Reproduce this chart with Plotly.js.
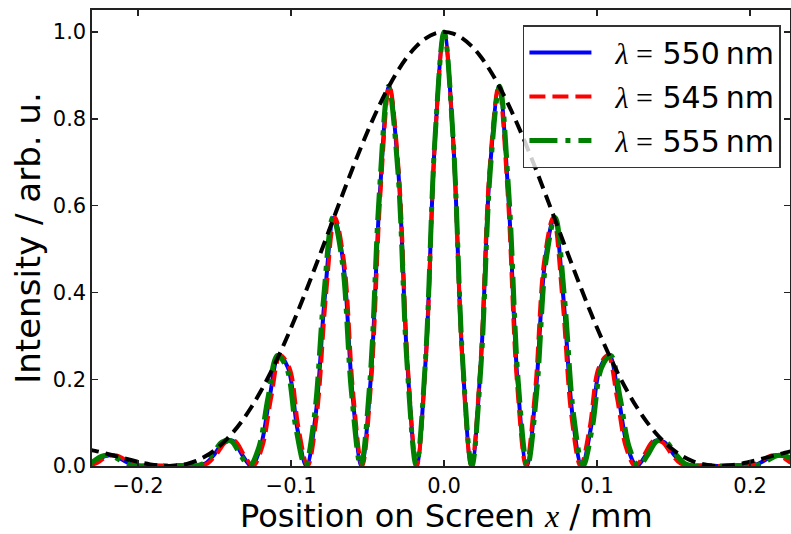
<!DOCTYPE html>
<html>
<head>
<meta charset="utf-8">
<script src="https://cdn.plot.ly/plotly-3.0.1.min.js"></script>
<style>html,body{margin:0;padding:0;background:#fff}#chart{width:791px;height:534px}</style>
</head>
<body>
<div id="chart"></div>
<script>
// Screen positions (mm) of the sampled points for each wavelength
const x550 = [-0.234,-0.228,-0.222,-0.216,-0.210,-0.204,-0.198,-0.192,-0.186,-0.180,-0.174,-0.168,-0.162,-0.156,-0.150,-0.144,-0.138,-0.132,-0.126,-0.120,-0.114,-0.108,-0.102,-0.096,-0.090,-0.084,-0.078,-0.072,-0.066,-0.060,-0.054,-0.048,-0.042,-0.036,-0.030,-0.024,-0.018,-0.012,-0.006,0,
0.006,0.012,0.018,0.024,0.030,0.036,0.042,0.048,0.054,0.060,0.066,0.072,0.078,0.084,0.090,0.096,0.102,0.108,0.114,0.120,0.126,0.132,0.138,0.144,0.150,0.156,0.162,0.168,0.174,0.180,0.186,0.192,0.198,0.204,0.210,0.216,0.222,0.228,0.234];
const x545 = [-0.231873,-0.225927,-0.219982,-0.214036,-0.208091,-0.202145,-0.196200,-0.190255,-0.184309,-0.178364,-0.172418,-0.166473,-0.160527,-0.154582,-0.148636,-0.142691,-0.136745,-0.130800,-0.124855,-0.118909,-0.112964,-0.107018,-0.101073,-0.095127,-0.089182,-0.083236,-0.077291,-0.071345,-0.065400,-0.059455,-0.053509,-0.047564,-0.041618,-0.035673,-0.029727,-0.023782,-0.017836,-0.011891,-0.005945,0,
0.005945,0.011891,0.017836,0.023782,0.029727,0.035673,0.041618,0.047564,0.053509,0.059455,0.065400,0.071345,0.077291,0.083236,0.089182,0.095127,0.101073,0.107018,0.112964,0.118909,0.124855,0.130800,0.136745,0.142691,0.148636,0.154582,0.160527,0.166473,0.172418,0.178364,0.184309,0.190255,0.196200,0.202145,0.208091,0.214036,0.219982,0.225927,0.231873];
const x555 = [-0.236127,-0.230073,-0.224018,-0.217964,-0.211909,-0.205855,-0.199800,-0.193745,-0.187691,-0.181636,-0.175582,-0.169527,-0.163473,-0.157418,-0.151364,-0.145309,-0.139255,-0.133200,-0.127145,-0.121091,-0.115036,-0.108982,-0.102927,-0.096873,-0.090818,-0.084764,-0.078709,-0.072655,-0.066600,-0.060545,-0.054491,-0.048436,-0.042382,-0.036327,-0.030273,-0.024218,-0.018164,-0.012109,-0.006055,0,
0.006055,0.012109,0.018164,0.024218,0.030273,0.036327,0.042382,0.048436,0.054491,0.060545,0.066600,0.072655,0.078709,0.084764,0.090818,0.096873,0.102927,0.108982,0.115036,0.121091,0.127145,0.133200,0.139255,0.145309,0.151364,0.157418,0.163473,0.169527,0.175582,0.181636,0.187691,0.193745,0.199800,0.205855,0.211909,0.217964,0.224018,0.230073,0.236127];

// Intensity read at those points (same fringe shape for all three wavelengths)
const intensity550 = [0,0.0087,0.0224,0.0243,0.0140,0.0033,0,0.0010,0.0008,0,0.0009,0.0013,0,0.0056,0.0274,0.0547,0.0579,0.0260,0,0.0427,0.1581,0.2546,0.2264,0.0881,0,0.1150,0.3872,0.5728,0.4717,0.1710,0,0.1967,0.6249,0.8751,0.6839,0.2357,0,0.2464,0.7473,1,
0.7473,0.2464,0,0.2357,0.6839,0.8751,0.6249,0.1967,0,0.1710,0.4717,0.5728,0.3872,0.1150,0,0.0881,0.2264,0.2546,0.1581,0.0427,0,0.0260,0.0579,0.0547,0.0274,0.0056,0,0.0013,0.0009,0,0.0008,0.0010,0,0.0033,0.0140,0.0243,0.0224,0.0087,0];
const intensity545 = [0,0.0087,0.0224,0.0243,0.0140,0.0033,0,0.0010,0.0008,0,0.0009,0.0013,0,0.0056,0.0274,0.0547,0.0579,0.0260,0,0.0427,0.1581,0.2546,0.2264,0.0881,0,0.1150,0.3872,0.5728,0.4717,0.1710,0,0.1967,0.6249,0.8751,0.6839,0.2357,0,0.2464,0.7473,1,
0.7473,0.2464,0,0.2357,0.6839,0.8751,0.6249,0.1967,0,0.1710,0.4717,0.5728,0.3872,0.1150,0,0.0881,0.2264,0.2546,0.1581,0.0427,0,0.0260,0.0579,0.0547,0.0274,0.0056,0,0.0013,0.0009,0,0.0008,0.0010,0,0.0033,0.0140,0.0243,0.0224,0.0087,0];
const intensity555 = [0,0.0087,0.0224,0.0243,0.0140,0.0033,0,0.0010,0.0008,0,0.0009,0.0013,0,0.0056,0.0274,0.0547,0.0579,0.0260,0,0.0427,0.1581,0.2546,0.2264,0.0881,0,0.1150,0.3872,0.5728,0.4717,0.1710,0,0.1967,0.6249,0.8751,0.6839,0.2357,0,0.2464,0.7473,1,
0.7473,0.2464,0,0.2357,0.6839,0.8751,0.6249,0.1967,0,0.1710,0.4717,0.5728,0.3872,0.1150,0,0.0881,0.2264,0.2546,0.1581,0.0427,0,0.0260,0.0579,0.0547,0.0274,0.0056,0,0.0013,0.0009,0,0.0008,0.0010,0,0.0033,0.0140,0.0243,0.0224,0.0087,0];

// Single-slit envelope (black dashed), at the x550 positions
const envelope = [0.0392,0.0349,0.0298,0.0243,0.0186,0.0131,0.0080,0.0038,0.0010,0,0.0012,0.0050,0.0119,0.0223,0.0365,0.0547,0.0772,0.1041,0.1353,0.1710,0.2108,0.2546,0.3019,0.3523,0.4053,0.4602,0.5163,0.5728,0.6289,0.6839,0.7368,0.7869,0.8332,0.8751,0.9119,0.9429,0.9675,0.9855,0.9964,1,
0.9964,0.9855,0.9675,0.9429,0.9119,0.8751,0.8332,0.7869,0.7368,0.6839,0.6289,0.5728,0.5163,0.4602,0.4053,0.3523,0.3019,0.2546,0.2108,0.1710,0.1353,0.1041,0.0772,0.0547,0.0365,0.0223,0.0119,0.0050,0.0012,0,0.0010,0.0038,0.0080,0.0131,0.0186,0.0243,0.0298,0.0349,0.0392];

const seriesNames = ['550', '545', '555'];
const xTickVals = [-0.2, -0.1, 0.0, 0.1, 0.2];
const xTickText = ['\u22120.2', '\u22120.1', '0.0', '0.1', '0.2'];
const yTickVals = [0, 0.2, 0.4, 0.6, 0.8, 1.0];
const yTickText = ['0.0', '0.2', '0.4', '0.6', '0.8', '1.0'];
const xTitle = 'Position on Screen <span style="font-family:Liberation Serif"><i>x</i></span> / mm';
const yTitle = 'Intensity / arb. u.';

const SANS = 'DejaVu Sans, sans-serif';
const lam = n => '\u00a0\u00a0<span style="font-family:Liberation Serif"><i>λ</i> =</span> ' + n + '\u2009nm';

const traces = [
  {x: x550, y: intensity550, mode: 'lines', name: lam(seriesNames[0]), legendgroup: 'a',
   line: {color: '#0000ff', width: 4, shape: 'spline', smoothing: 1}},
  {x: x545, y: intensity545, mode: 'lines', name: lam(seriesNames[1]), legendgroup: 'b',
   line: {color: '#ff0000', width: 4, shape: 'spline', smoothing: 1, dash: '16px,7px'}},
  {x: x555, y: intensity555, mode: 'lines', name: lam(seriesNames[2]), legendgroup: 'c',
   line: {color: '#008000', width: 5, shape: 'spline', smoothing: 1, dash: '28px,8px,5px,8px'}},
  {x: x550, y: envelope, mode: 'lines', showlegend: false,
   line: {color: '#000000', width: 4, shape: 'spline', dash: '13px,7px'}}
];

const axisCommon = {
  showgrid: false, zeroline: false, showline: true, linecolor: '#222', linewidth: 1.6,
  mirror: 'ticks', ticks: 'inside', ticklen: 6, tickwidth: 1.4, tickcolor: '#222',
  tickfont: {family: SANS, size: 21, color: '#000'}, automargin: false
};

const layout = {
  width: 791, height: 534,
  margin: {l: 92, r: 1, t: 10, b: 68},
  paper_bgcolor: '#fff', plot_bgcolor: '#fff',
  showlegend: true,
  xaxis: Object.assign({}, axisCommon, {
    range: [-0.2301, 0.2261], tickmode: 'array', tickvals: xTickVals, ticktext: xTickText
  }),
  yaxis: Object.assign({}, axisCommon, {
    range: [0, 1.0507], tickmode: 'array', tickvals: yTickVals, ticktext: yTickText,
    title: {text: yTitle, font: {family: SANS, size: 34, color: '#000'}, standoff: 2}
  }),
  annotations: [{
    text: xTitle, xref: 'paper', yref: 'paper', x: 0.5081, y: -0.153,
    xanchor: 'center', yanchor: 'bottom', showarrow: false, borderpad: 0,
    font: {family: SANS, size: 32, color: '#000'}
  }],
  legend: {
    x: 0.987, y: 0.967, xanchor: 'right', yanchor: 'top',
    bgcolor: 'rgba(255,255,255,0.8)', bordercolor: '#333', borderwidth: 1.5,
    font: {family: SANS, size: 30, color: '#000'}, itemwidth: 62, tracegroupgap: 2
  }
};

Plotly.newPlot('chart', traces, layout, {staticPlot: true, displayModeBar: false});
</script>
</body>
</html>
